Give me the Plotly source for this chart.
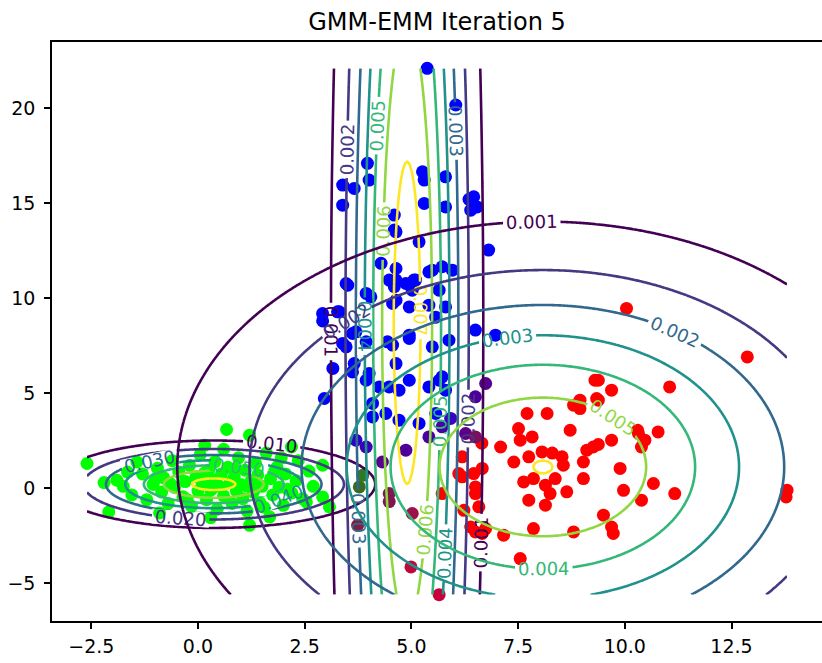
import numpy as np
import plotly.graph_objects as go

# ---- scatter data (x, y) per cluster ----
green_pts = [
    (-2.60, 1.30), (-2.09, -1.25), (-1.90, 0.42), (-1.43, 1.38), (-1.75, 0.10), (-1.55, -0.35),
    (-1.30, 0.75), (-1.20, -0.60), (-1.05, 0.20), (-0.95, 1.05), (-0.85, -0.20), (-0.80, 0.55),
    (-0.70, -0.80), (-0.60, 1.45), (-0.55, 0.05), (-0.45, 0.85), (-0.35, -0.45), (-0.30, 0.35),
    (-0.20, 1.20), (-0.15, -0.95), (-0.05, 0.60), (0.00, -0.15), (0.05, 1.75), (0.10, 0.25),
    (0.16, 2.26), (0.20, -0.60), (0.25, 0.95), (0.30, -0.10), (0.35, 0.45), (0.40, 1.40),
    (0.45, -1.10), (0.50, 0.10), (0.55, 0.75), (0.60, -0.40), (0.67, 3.09), (0.70, 1.10),
    (0.75, 0.30), (0.80, -0.80), (0.85, 0.60), (0.90, -0.15), (0.95, 1.60), (1.00, 0.20),
    (1.05, -0.55), (1.10, 0.95), (1.15, -1.20), (1.21, 2.79), (1.25, 0.40), (1.30, -0.20),
    (1.35, 1.30), (1.40, 0.70), (1.45, -0.75), (1.50, 0.10), (1.21, -1.95), (1.60, 1.85),
    (1.68, -1.51), (1.70, 0.50), (1.75, -0.35), (1.85, 1.10), (1.90, 0.05), (2.00, -0.90),
    (2.05, 0.75), (2.19, 2.17), (2.20, -0.25), (2.30, 0.40), (2.35, 1.45), (2.45, -0.55),
    (2.54, -0.72), (2.60, 0.90), (2.70, 0.10), (2.92, 1.21), (2.92, -0.46), (-0.90, -1.30),
    (0.30, -1.55), (-1.65, 0.85), (-2.20, 0.30), (0.60, 2.05), (1.95, 1.60), (3.08, -0.98),
    (-1.00, 0.50), (-0.25, -0.60), (0.85, 1.00), (1.55, -1.00), (2.10, -0.05), (-0.65, 0.25),
    (0.15, 0.80), (1.15, 0.10), (1.80, 0.90),
]

blue_pts = [
    (5.37, 22.09), (6.04, 20.16), (3.97, 17.09), (4.01, 16.21), (3.39, 15.95), (3.66, 15.77),
    (3.39, 14.89), (5.26, 16.65), (5.30, 16.21), (5.80, 16.38), (5.30, 14.98), (5.80, 14.80),
    (6.46, 15.33), (6.39, 14.63), (4.60, 14.37), (4.60, 13.58), (5.18, 12.96), (6.81, 12.53),
    (4.29, 11.83), (4.64, 11.56), (3.47, 10.77), (4.64, 10.95), (4.87, 10.77), (5.10, 10.95),
    (5.49, 11.47), (5.72, 11.65), (5.96, 11.47), (5.02, 10.42), (3.94, 10.25), (3.51, 10.68),
    (2.92, 9.19), (2.92, 8.80), (3.31, 9.28), (4.05, 10.07), (4.60, 10.60), (5.65, 10.42),
    (5.80, 9.54), (5.41, 9.63), (4.95, 9.54), (4.56, 9.72), (3.70, 8.23), (3.39, 7.62),
    (3.94, 7.70), (4.44, 7.70), (4.95, 7.88), (5.49, 7.44), (5.88, 7.79), (6.50, 8.32),
    (6.97, 8.05), (3.16, 6.30), (3.62, 6.12), (3.94, 5.68), (4.25, 5.33), (4.64, 6.56),
    (4.95, 5.68), (4.71, 5.16), (5.65, 5.68), (5.80, 5.16), (2.96, 4.72), (4.09, 4.46),
    (4.40, 3.93), (4.09, 3.75), (4.71, 3.58), (5.18, 3.41), (5.57, 3.93), (4.64, 13.49),
    (4.48, 10.95), (5.06, 10.95), (5.41, 11.38), (3.27, 9.28), (3.62, 8.14), (4.64, 9.89),
    (5.57, 9.00), (4.95, 8.05), (4.56, 7.53), (3.47, 7.44), (3.66, 6.56), (4.01, 6.04),
    (4.48, 5.33), (5.41, 5.33), (5.72, 5.86), (6.54, 14.80), (6.35, 15.20),
]

red_pts = [
    (9.30, 5.68), (9.69, 5.16), (8.95, 4.63), (9.34, 4.72), (8.80, 4.37), (8.95, 4.19),
    (11.05, 5.33), (7.71, 3.93), (8.18, 3.93), (8.72, 3.05), (7.51, 3.14), (7.83, 2.70),
    (7.55, 2.53), (7.09, 2.17), (7.40, 1.38), (7.75, 1.65), (8.06, 1.91), (8.30, 1.85),
    (8.53, 1.65), (8.56, 1.21), (9.03, 1.38), (9.11, 2.00), (9.26, 2.17), (9.69, 2.53),
    (10.32, 2.88), (10.47, 2.53), (10.39, 2.17), (10.78, 2.96), (9.89, 1.04), (7.63, 0.33),
    (7.86, 0.51), (8.14, 0.16), (8.37, 0.51), (8.25, -0.28), (8.64, -0.19), (9.03, 0.51),
    (7.75, -0.63), (8.14, -0.89), (9.97, -0.11), (10.39, -0.63), (10.67, 0.25), (11.17, -0.28),
    (9.50, -1.42), (9.69, -2.04), (9.73, -2.38), (7.86, -2.12), (8.80, -2.30), (7.16, -2.47),
    (6.66, -2.38), (6.50, -2.30), (7.55, -3.70), (6.19, 0.60), (6.66, 1.04), (6.46, 0.77),
    (6.50, -0.28), (6.23, -1.16), (6.74, -2.12), (10.04, 9.46), (12.87, 6.91), (9.38, 2.30),
    (13.80, -0.10), (13.78, -0.46), (5.72, -0.28), (6.11, 0.77), (6.19, 1.65), (6.50, 0.07),
    (6.58, -0.98), (6.39, -2.04), (9.38, 5.68), (9.38, 4.63), (10.30, 3.05), (6.65, 2.37),
]

# points shared between components, coloured by responsibility mix
mixed_pts = [
    (5.92, 3.67), (3.70, 2.53), (3.94, 2.17), (4.32, 1.38), (4.87, 2.00), (5.41, 2.70),
    (5.72, 3.23), (6.27, 2.88), (6.74, 5.51), (6.50, 4.81), (6.50, 2.70), (4.48, -0.28),
    (4.48, -0.70), (5.02, -1.33), (3.74, -1.95), (4.99, -4.14), (5.65, -5.60), (3.78, 0.07),
    (3.86, 0.68),
]
mixed_colors = [
    '#3c00c3', '#2d00c8', '#3a00b5', '#5a0090', '#50009a', '#4a00a5',
    '#4600aa', '#5c0088', '#55008f', '#50009a', '#7a1060', '#7a1a50',
    '#7f1650', '#a0104a', '#802040', '#c0083a', '#c8003a', '#3a6a20',
    '#2f7a20',
]

# ---- Gaussian components (green, blue, red) ----
comp_means = [(0.37, 0.21), (4.90, 8.70), (8.08, 1.12)]
comp_sigmas = [(1.90, 1.155), (0.89, 24.0), (4.34, 6.54)]
level_starts = [0.010, 0.001, 0.0008]
level_steps = [0.010, 0.001, 0.0008]
n_levels = 7
viridis7 = ['#440154', '#443983', '#31688e', '#21918c', '#35b779', '#90d743', '#fde725']

x_ticks = [-2.5, 0.0, 2.5, 5.0, 7.5, 10.0, 12.5]
y_ticks = [-5, 0, 5, 10, 15, 20]


def split(pts):
    return [p[0] for p in pts], [p[1] for p in pts]


gx, gy = split(green_pts)
bx, by = split(blue_pts)
rx, ry = split(red_pts)
mx, my = split(mixed_pts)

all_x = np.array(gx + bx + rx + mx)
all_y = np.array(gy + by + ry + my)
xmin, xmax = all_x.min(), all_x.max()
ymin, ymax = all_y.min(), all_y.max()

# axis limits with 5% margins
xpad = 0.05 * (xmax - xmin)
ypad = 0.05 * (ymax - ymin)
xr = [xmin - xpad, xmax + xpad]
yr = [ymin - ypad, ymax + ypad]

# evaluation grid spanning the data
grid_x = np.linspace(xmin, xmax, 320)
grid_y = np.linspace(ymin, ymax, 420)
GX, GY = np.meshgrid(grid_x, grid_y)

fig = go.Figure()

marker_size = 13
fig.add_trace(go.Scatter(x=gx, y=gy, mode='markers', hoverinfo='skip',
                         marker=dict(color='#00ff00', size=marker_size, line=dict(width=0))))
fig.add_trace(go.Scatter(x=bx, y=by, mode='markers', hoverinfo='skip',
                         marker=dict(color='#0000ff', size=marker_size, line=dict(width=0))))
fig.add_trace(go.Scatter(x=rx, y=ry, mode='markers', hoverinfo='skip',
                         marker=dict(color='#ff0000', size=marker_size, line=dict(width=0))))
fig.add_trace(go.Scatter(x=mx, y=my, mode='markers', hoverinfo='skip',
                         marker=dict(color=mixed_colors, size=marker_size, line=dict(width=0))))

colorscale = [[k / (n_levels - 1), c] for k, c in enumerate(viridis7)]

for (mux, muy), (sx, sy), l0, dl in zip(comp_means, comp_sigmas, level_starts, level_steps):
    z = np.exp(-0.5 * (((GX - mux) / sx) ** 2 + ((GY - muy) / sy) ** 2)) / (2 * np.pi * sx * sy)
    fig.add_trace(go.Contour(
        x=grid_x, y=grid_y, z=z,
        xaxis='x2', yaxis='y2',
        autocontour=False,
        contours=dict(start=l0, end=l0 + dl * (n_levels - 1), size=dl,
                      coloring='lines', showlabels=True, labelformat='.3f',
                      labelfont=dict(family='DejaVu Sans', size=18)),
        colorscale=colorscale,
        line=dict(width=2.6),
        showscale=False,
        hoverinfo='skip',
    ))

axis_font = dict(family='DejaVu Sans', size=19, color='black')

fig.update_layout(
    width=822, height=663,
    margin=dict(l=52, r=0, t=42, b=42),
    paper_bgcolor='white', plot_bgcolor='white',
    showlegend=False,
    title=dict(text='GMM-EMM Iteration 5', x=0.5, xref='paper', xanchor='center',
               y=1 - 22 / 663, yref='container', yanchor='middle',
               font=dict(family='DejaVu Sans', size=24, color='black')),
    xaxis=dict(range=xr, tickvals=x_ticks,
               ticktext=[f'{v:.1f}'.replace('-', '\u2212') for v in x_ticks],
               ticks='outside', ticklen=6, tickwidth=1.6, tickcolor='black',
               showline=True, linecolor='black', linewidth=1.6, mirror=True,
               showgrid=False, zeroline=False, tickfont=axis_font, ticklabelstandoff=1),
    yaxis=dict(range=yr, tickvals=y_ticks,
               ticktext=[f'{v}'.replace('-', '\u2212') for v in y_ticks],
               ticks='outside', ticklen=6, tickwidth=1.6, tickcolor='black',
               showline=True, linecolor='black', linewidth=1.6, mirror=False,
               showgrid=False, zeroline=False, tickfont=axis_font, ticklabelstandoff=5),
    xaxis2=dict(overlaying='x', range=xr, visible=False),
    yaxis2=dict(overlaying='y', range=yr, visible=False),
)

fig.write_html('out.html')
